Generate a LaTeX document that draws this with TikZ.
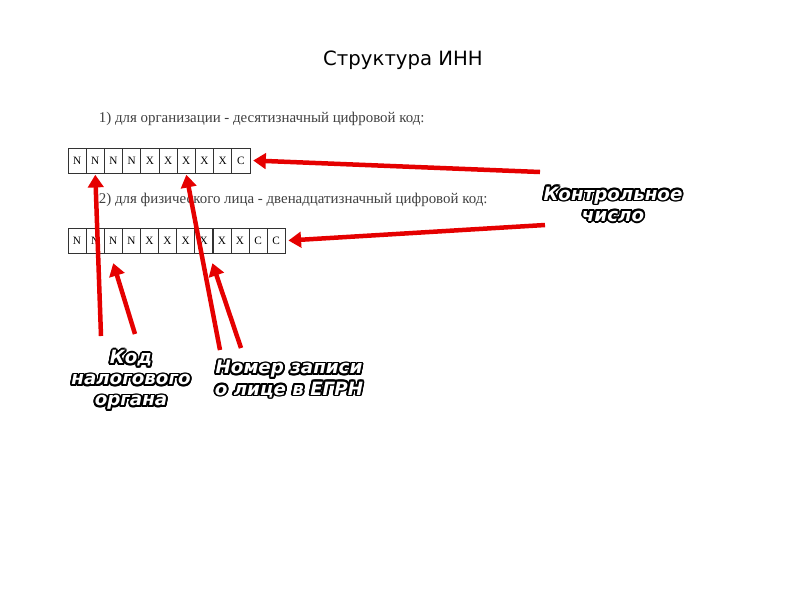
\documentclass[tikz,border=0pt]{standalone}
\usepackage{fontspec}
\setmainfont{Liberation Serif}
\newfontfamily\titlefont{DejaVu Sans}
\usepackage[copies]{contour}
\contourlength{1.3pt}
\usetikzlibrary{arrows.meta}

\tikzset{
	cell/.style={draw=black!80, line width=0.5pt, minimum width=0.455cm, minimum height=0.625cm, inner sep=0pt, font=\fontsize{8}{9}\selectfont},
	redarrow/.style={draw=red!90!black, line width=3.2pt, -{Triangle[length=9pt,width=11pt]}},
	callout/.style={align=center, text=white, font=\titlefont\bfseries\itshape\fontsize{13}{15}\selectfont}
}

\begin{document}
\begin{tikzpicture}[x=0.025cm, y=-0.025cm]
	\useasboundingbox[fill=white] (0,0) rectangle (800,600);

	\node[font=\titlefont\fontsize{14}{16}\selectfont] (title) at (403,60) {Структура ИНН};

	\node[anchor=west, font=\fontsize{10.6}{12}\selectfont, text=black!75] (line1) at (94,119) {1) для организации - десятизначный цифровой код:};
	\node[anchor=west, font=\fontsize{10.6}{12}\selectfont, text=black!75] (line2) at (94,200) {2) для физического лица - двенадцатизначный цифровой код:};

	% first row: ten cells
	\foreach \t [count=\i] in {N,N,N,N,X,X,X,X,X,C}
		\node[cell] (a\i) at ({68+18.2*(\i-0.5)},160.5) {\t};

	% second row: twelve cells
	\foreach \t [count=\i] in {N,N,N,N,X,X,X,X,X,X,C,C}
		\node[cell] (b\i) at ({68+18.1*(\i-0.5)},240.5) {\t};

	\node[callout] (ctrl) at (613,205) {\contour{black}{Контрольное}\\\contour{black}{число}};
	\node[callout] (tax) at (131,381) {\contour{black}{Код}\\\contour{black}{налогового}\\\contour{black}{органа}};
	\node[callout] (rec) at (289,380) {\contour{black}{Номер записи}\\\contour{black}{о лице в ЕГРН}};

	\coordinate (c1) at (540,172);
	\coordinate (c2) at (545,225);
	\coordinate (t1) at (101,336);
	\coordinate (t2) at (135,334);
	\coordinate (r1) at (220,350);
	\coordinate (r2) at (241,348);

	\draw[redarrow] (c1) -- ([xshift=2pt]a10.east);
	\draw[redarrow] (c2) -- ([xshift=2pt]b12.east);
	\draw[redarrow] (t1) -- ([yshift=-1pt]a2.south);
	\draw[redarrow] (t2) -- ([yshift=-7pt]b3.south);
	\draw[redarrow] (r1) -- ([yshift=-1pt]a7.south);
	\draw[redarrow] (r2) -- ([yshift=-7pt]b9.south west);
\end{tikzpicture}
\end{document}
